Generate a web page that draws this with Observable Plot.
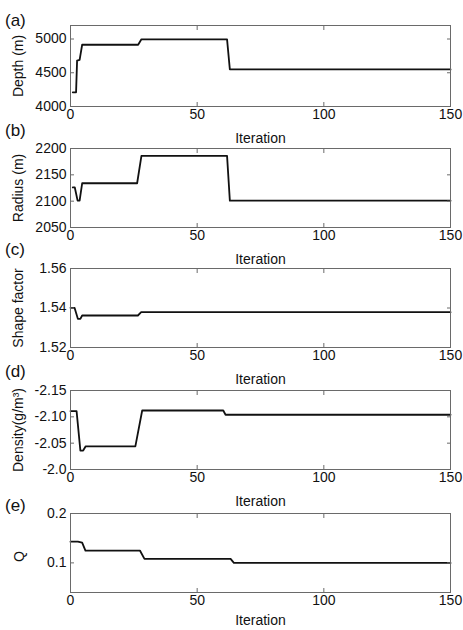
<!DOCTYPE html>
<html><head><meta charset="utf-8">
<script src="https://cdn.jsdelivr.net/npm/d3@7"></script>
<script src="https://cdn.jsdelivr.net/npm/@observablehq/plot@0.6"></script>
<style>
body{margin:0;background:#fff;}
#chart{position:relative;width:463px;height:630px;font-family:"Liberation Sans",Arial,sans-serif;overflow:hidden;}
.panel{position:absolute;left:0;}
.tag{position:absolute;font-size:17px;color:#111;line-height:1;}
</style></head><body><div id="chart"></div>
<script>
// x ticks shared by all panels
const xTicks = [0, 50, 100, 150];

// (a) Depth
const depthIter = [0.9, 2.2, 2.6, 3.6, 4.6, 26.7, 28, 61.8, 62.9, 150];
const depthVal  = [4210, 4210, 4680, 4690, 4915, 4915, 4995, 4995, 4550, 4550];
const depthTicks = [4000, 4500, 5000];

// (b) Radius
const radiusIter = [0.9, 1.7, 2.8, 3.6, 4.6, 26.3, 28, 61.8, 62.9, 150];
const radiusVal  = [2126, 2126, 2101, 2101, 2134, 2134, 2186, 2186, 2101, 2101];
const radiusTicks = [2050, 2100, 2150, 2200];

// (c) Shape factor
const shapeIter = [0, 1.6, 2.9, 3.9, 4.6, 26.6, 27.9, 150];
const shapeVal  = [1.5401, 1.5401, 1.5345, 1.5345, 1.5362, 1.5362, 1.5379, 1.5379];
const shapeTicks = [1.52, 1.54, 1.56];

// (d) Density
const densIter = [0, 2.4, 3.9, 5, 6, 25.6, 28.3, 60.3, 61.2, 150];
const densVal  = [-2.111, -2.111, -2.036, -2.036, -2.044, -2.044, -2.112, -2.112, -2.104, -2.104];
const densTicks = [-2.15, -2.10, -2.05, -2.0];
const densTickLabels = ["-2.15", "-2.10", "-2.05", "-2.0"];

// (e) Q
const qIter = [0, 2.9, 4.6, 5.9, 27.4, 29.2, 63.2, 64.5, 150];
const qVal  = [0.143, 0.143, 0.141, 0.125, 0.125, 0.108, 0.108, 0.100, 0.100];
const qTicks = [0.1, 0.2];

const panelTags = ["(a)", "(b)", "(c)", "(d)", "(e)"];

const chart = document.getElementById("chart");
const FONT = '"Liberation Sans", Arial, sans-serif';
const FRAME = "#6a6a6a";

function zip(xs, ys) { return xs.map((x, i) => ({iter: x, value: ys[i]})); }

function makePanel(cfg) {
  const mt = 6, mb = 42;
  const h = cfg.bottom - cfg.top;
  const extra = [];
  if (cfg.customLabel) {
    extra.push(Plot.text([cfg.label], {frameAnchor: "left", dx: -51, dy: cfg.labelDy || 0, rotate: -90,
      fill: "#111", fontSize: 14}));
  }
  const p = Plot.plot({
    width: 463,
    height: h + mt + mb,
    marginLeft: 70, marginRight: 13, marginTop: mt, marginBottom: mb,
    style: {fontSize: "14px", fontFamily: FONT, color: "#111", background: "transparent", overflow: "visible"},
    x: {domain: [0, 150]},
    y: {domain: cfg.domain},
    marks: [
      Plot.line(cfg.data, {x: "iter", y: "value", stroke: "#111", strokeWidth: 1.8}),
      Plot.frame({stroke: FRAME}),
      Plot.axisX(xTicks, {anchor: "bottom", tickSize: -4, tickPadding: 7, stroke: FRAME,
        tickFormat: d => String(d), label: "Iteration", labelAnchor: "center", labelArrow: "none", labelOffset: cfg.xLabelOffset ?? 36}),
      Plot.axisX(xTicks, {anchor: "top", tickSize: -4, text: null, label: null, stroke: FRAME}),
      Plot.axisY(cfg.ticks, {anchor: "left", tickSize: -4, tickPadding: 8, stroke: FRAME,
        tickFormat: cfg.format, label: cfg.customLabel ? null : cfg.label, labelAnchor: "center", labelArrow: "none", labelOffset: 57}),
      Plot.axisY(cfg.ticks, {anchor: "right", tickSize: -4, text: null, label: null, stroke: FRAME}),
      ...extra
    ]
  });
  p.classList.add("panel");
  p.style.top = (cfg.top - mt) + "px";
  chart.appendChild(p);
  const t = document.createElement("div");
  t.className = "tag";
  t.textContent = cfg.tag;
  t.style.left = "5px";
  t.style.top = cfg.tagTop + "px";
  chart.appendChild(t);
}

makePanel({tag: panelTags[0], tagTop: 12, top: 25, bottom: 106, domain: [4000, 5200], ticks: depthTicks,
  format: d => String(d), label: "Depth (m)", data: zip(depthIter, depthVal)});
makePanel({tag: panelTags[1], tagTop: 122, top: 148, bottom: 227, domain: [2050, 2200], ticks: radiusTicks,
  format: d => String(d), label: "Radius (m)", data: zip(radiusIter, radiusVal)});
makePanel({tag: panelTags[2], tagTop: 241, top: 268, bottom: 347, domain: [1.52, 1.56], ticks: shapeTicks,
  format: d3.format(".2f"), label: "Shape factor", data: zip(shapeIter, shapeVal)});
makePanel({tag: panelTags[3], tagTop: 363, top: 390, bottom: 469, domain: [-2.0, -2.15], ticks: densTicks,
  format: (d, i) => densTickLabels[i], label: "Density(g/m³)", data: zip(densIter, densVal)});
makePanel({tag: panelTags[4], tagTop: 497, top: 513, bottom: 592, domain: [0.04, 0.2], ticks: qTicks,
  format: d => String(d), label: "Q", customLabel: true, labelDy: 9, xLabelOffset: 32, data: zip(qIter, qVal)});
</script></body></html>
